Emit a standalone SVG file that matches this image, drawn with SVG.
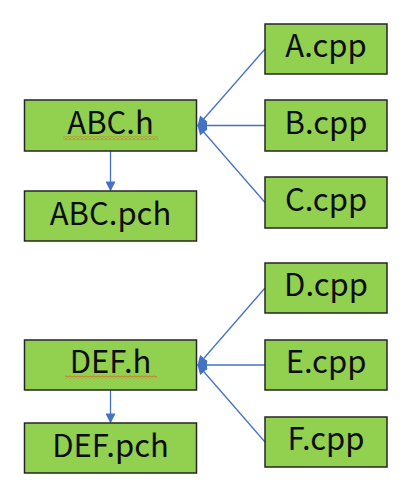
<svg xmlns="http://www.w3.org/2000/svg" width="413" height="500" viewBox="0 0 413 500">
<style>
.box{fill:#92D050;stroke:#262626;stroke-width:1.5}
.lbl{font-family:"Noto Sans CJK JP","Liberation Sans",sans-serif;font-size:31px;fill:#0d0d0d;text-anchor:middle}
.con{stroke:#4472C4;stroke-width:1.3;fill:none}
</style>
<defs>
<marker id="arr" viewBox="0 0 10 10" refX="9" refY="5" markerWidth="11" markerHeight="10" markerUnits="userSpaceOnUse" orient="auto">
<path d="M0,0 L10,5 L0,10 Z" fill="#4472C4"/>
</marker>
<pattern id="wave" x="0" y="0" width="4" height="3" patternUnits="userSpaceOnUse">
<path d="M0,2.5 L2,0.5 L4,2.5" fill="none" stroke="#E2561E" stroke-width="1"/>
</pattern>
</defs>
<rect width="413" height="500" fill="#fff"/>
<g id="connectors">
<line class="con" x1="110.5" y1="151" x2="110.5" y2="190.5" marker-end="url(#arr)"/>
<line class="con" x1="265" y1="49" x2="198" y2="125.5" marker-end="url(#arr)"/>
<line class="con" x1="265" y1="125.5" x2="198" y2="125.5" marker-end="url(#arr)"/>
<line class="con" x1="265" y1="202.5" x2="198" y2="125.5" marker-end="url(#arr)"/>
<line class="con" x1="110.5" y1="390" x2="110.5" y2="422.5" marker-end="url(#arr)"/>
<line class="con" x1="265" y1="288" x2="198" y2="365" marker-end="url(#arr)"/>
<line class="con" x1="265" y1="365" x2="198" y2="365" marker-end="url(#arr)"/>
<line class="con" x1="265" y1="442" x2="198" y2="365" marker-end="url(#arr)"/>
</g>
<g id="abc_h"><rect class="box" x="24.5" y="100" width="172" height="51"/><text class="lbl" x="110.5" y="133.5">ABC.h</text><rect x="63" y="136.5" width="95" height="3" fill="url(#wave)"/></g>
<g id="abc_pch"><rect class="box" x="24.5" y="191" width="172" height="50"/><text class="lbl" x="110.5" y="224.5">ABC.pch</text></g>
<g id="a_cpp"><rect class="box" x="265" y="24" width="122" height="50"/><text class="lbl" x="326" y="57">A.cpp</text></g>
<g id="b_cpp"><rect class="box" x="265" y="100" width="122" height="51"/><text class="lbl" x="326" y="133.5">B.cpp</text></g>
<g id="c_cpp"><rect class="box" x="265" y="177" width="122" height="51"/><text class="lbl" x="326" y="210.5">C.cpp</text></g>
<g id="def_h"><rect class="box" x="24.5" y="340" width="172" height="50"/><text class="lbl" x="110.5" y="373">DEF.h</text><rect x="65" y="375.5" width="92" height="3" fill="url(#wave)"/></g>
<g id="def_pch"><rect class="box" x="24.5" y="423" width="172" height="50"/><text class="lbl" x="110.5" y="456.5">DEF.pch</text></g>
<g id="d_cpp"><rect class="box" x="265" y="263" width="122" height="50"/><text class="lbl" x="326" y="296">D.cpp</text></g>
<g id="e_cpp"><rect class="box" x="265" y="340" width="122" height="50"/><text class="lbl" x="326" y="373">E.cpp</text></g>
<g id="f_cpp"><rect class="box" x="265" y="417" width="122" height="50"/><text class="lbl" x="326" y="450">F.cpp</text></g>
</svg>
